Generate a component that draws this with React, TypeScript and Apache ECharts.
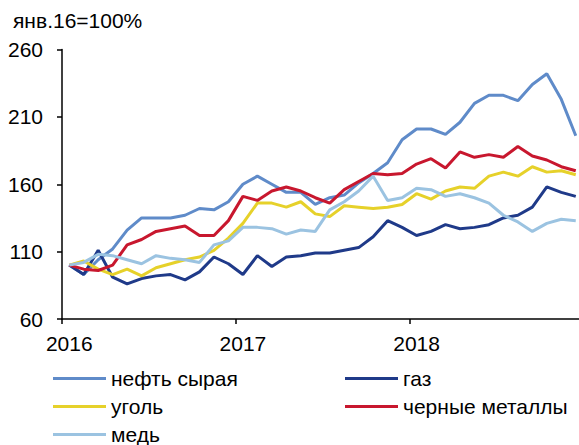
import React, { useEffect, useRef } from "react";
import * as echarts from "echarts";

const months: string[] = [];
for (let y = 2016; y <= 2018; y++) for (let m = 1; m <= 12; m++) months.push(`${y}-${String(m).padStart(2, "0")}`);
const yearLabels: Record<number, string> = { 0: "2016", 12: "2017", 24: "2018" };

const oil = [100, 93, 104, 112, 126, 135, 135, 135, 137, 142, 141, 147, 160, 166, 160, 154, 154, 145, 150, 152, 161, 168, 176, 193, 201, 201, 197, 206, 220, 226, 226, 222, 234, 242, 223, 196];
const gas = [100, 93, 111, 91, 86, 90, 92, 93, 89, 95, 106, 101, 93, 107, 99, 106, 107, 109, 109, 111, 113, 121, 133, 128, 122, 125, 130, 127, 128, 130, 135, 137, 143, 158, 154, 151];
const coal = [100, 103, 97, 93, 97, 92, 98, 101, 104, 106, 111, 120, 131, 146, 146, 143, 147, 138, 136, 144, 143, 142, 143, 145, 153, 149, 155, 158, 157, 166, 169, 166, 173, 169, 170, 167];
const ferrous = [100, 97, 96, 100, 115, 119, 125, 127, 129, 122, 122, 133, 151, 148, 155, 158, 155, 150, 146, 156, 162, 168, 167, 168, 175, 179, 172, 184, 180, 182, 180, 188, 181, 178, 173, 170];
const copper = [100, 102, 108, 107, 104, 101, 107, 105, 104, 102, 115, 118, 128, 128, 127, 123, 126, 125, 141, 147, 155, 166, 148, 150, 157, 156, 151, 153, 150, 146, 137, 132, 125, 131, 134, 133];

const names = ["нефть сырая", "газ", "уголь", "черные металлы", "медь"];
const colors = ["#5F8BC9", "#1F3A89", "#E6D12A", "#C8172E", "#9BC3E1"];
const seriesData = [oil, gas, coal, ferrous, copper];

const FONT = "'Liberation Sans', Arial, sans-serif";

export default function App() {
  const ref = useRef<HTMLDivElement>(null);
  useEffect(() => {
    if (!ref.current) return;
    const chart = echarts.init(ref.current, null, { renderer: "svg" });
    const legendText = { fontSize: 21, color: "#000", fontFamily: FONT, lineHeight: 21 };
    const legendBase = {
      orient: "vertical",
      top: 368,
      padding: 0,
      itemGap: 7,
      icon: "rect",
      itemWidth: 53,
      itemHeight: 3,
      textStyle: legendText,
    };
    chart.setOption({
      animation: false,
      textStyle: { fontFamily: FONT },
      title: {
        text: "янв.16=100%",
        left: 13,
        top: 10,
        padding: 0,
        textStyle: { fontSize: 21, fontWeight: "normal", color: "#000", fontFamily: FONT },
      },
      grid: { left: 62, right: 7, top: 49.5, bottom: 141, containLabel: false },
      legend: [
        { ...legendBase, data: [names[0], names[2], names[4]], left: 53 },
        { ...legendBase, data: [names[1], names[3]], left: 345 },
      ],
      xAxis: {
        type: "category",
        data: months,
        boundaryGap: true,
        axisLine: { lineStyle: { color: "#000", width: 1.5 } },
        axisTick: {
          show: true,
          interval: (i: number) => i % 12 === 0,
          length: 5,
          lineStyle: { color: "#000", width: 1.5 },
        },
        axisLabel: {
          interval: 0,
          margin: 14,
          fontSize: 21,
          color: "#000",
          fontFamily: FONT,
          formatter: (_v: string, i: number) => yearLabels[i] ?? "",
        },
        splitLine: { show: false },
      },
      yAxis: {
        type: "value",
        min: 60,
        max: 260,
        interval: 50,
        axisLine: { show: true, lineStyle: { color: "#000", width: 1.5 } },
        axisTick: { show: true, length: 5, lineStyle: { color: "#000", width: 1.5 } },
        axisLabel: { margin: 19, fontSize: 21, color: "#000", fontFamily: FONT },
        splitLine: { show: false },
      },
      series: names.map((n, k) => ({
        name: n,
        type: "line",
        data: seriesData[k],
        symbol: "none",
        color: colors[k],
        lineStyle: { width: 3, color: colors[k] },
        itemStyle: { color: colors[k] },
      })),
    });
    return () => chart.dispose();
  }, []);
  return (
    <div style={{ position: "fixed", left: 0, top: 0, width: 579, height: 445, overflow: "hidden", background: "#fff" }}>
      <div ref={ref} style={{ width: 590, height: 460 }} />
    </div>
  );
}
